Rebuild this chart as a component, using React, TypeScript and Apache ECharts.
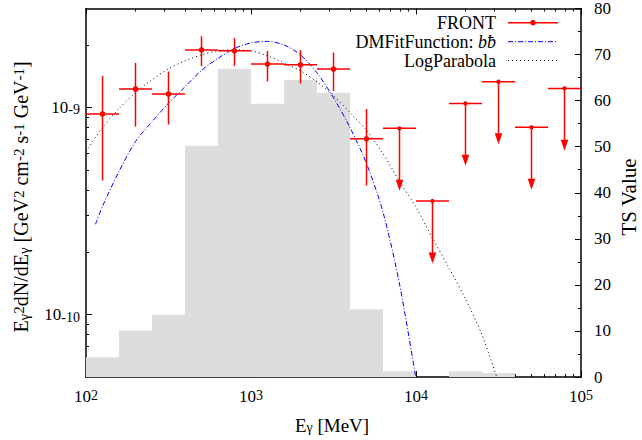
import React, { useEffect, useRef } from 'react';
import * as echarts from 'echarts';

const FONT = 'Liberation Serif';

// Energy bins (MeV)
const binLow = [100, 158.5, 251.2, 398.1, 631.0, 1000, 1585, 2512, 3981, 6310, 10000, 15849, 25119, 39811, 63096];
const binHigh = [158.5, 251.2, 398.1, 631.0, 1000, 1585, 2512, 3981, 6310, 10000, 15849, 25119, 39811, 63096, 100000];
const binCenter = [125.9, 199.5, 316.2, 501.2, 794.3, 1259, 1995, 3162, 5012, 7943, 12589, 19953, 31623, 50119, 79433];

// TS value per bin (right axis)
const tsValues = [4.3, 10.1, 13.5, 50.2, 66.9, 59.3, 64.5, 61.7, 14.7, 1.25, 0, 1.25, 0.85, 0, 0];

// FRONT measured points (first 9 bins)
const frontFlux = [9.29e-10, 1.226e-9, 1.16e-9, 1.894e-9, 1.875e-9, 1.617e-9, 1.604e-9, 1.53e-9, 7.05e-10];
const frontLow = [4.44e-10, 8.08e-10, 8.26e-10, 1.586e-9, 1.586e-9, 1.334e-9, 1.304e-9, 1.2e-9, 4.2e-10];
const frontHigh = [1.415e-9, 1.64e-9, 1.49e-9, 2.205e-9, 2.157e-9, 1.873e-9, 1.888e-9, 1.838e-9, 9.82e-10];
// FRONT upper limits (last 6 bins)
const frontUL = [7.92e-10, 3.53e-10, 1.045e-9, 1.329e-9, 8.01e-10, 1.234e-9];

// DMFitFunction: b bbar
const dmEnergy = [114.2, 125.9, 158.5, 199.5, 251.2, 316.2, 398.1, 501.2, 631.0, 794.3, 1000, 1259, 1585, 1995, 2512, 3162, 3981, 5012, 6310, 7943, 10000];
const dmFlux = [2.73e-10, 3.33e-10, 4.91e-10, 6.84e-10, 8.53e-10, 1.048e-9, 1.257e-9, 1.509e-9, 1.724e-9, 1.926e-9, 2.047e-9, 2.081e-9, 2.001e-9, 1.792e-9, 1.468e-9, 1.113e-9, 7.99e-10, 5.36e-10, 3.12e-10, 1.405e-10, 4.9e-11];

// LogParabola
const lpEnergy = [100, 125.9, 158.5, 199.5, 251.2, 316.2, 398.1, 501.2, 631.0, 794.3, 1000, 1259, 1585, 1995, 2512, 3162, 3981, 5012, 6310, 7943, 10000, 12589, 15849, 19953, 25119, 31623];
const lpFlux = [6.12e-10, 7.99e-10, 9.86e-10, 1.177e-9, 1.359e-9, 1.535e-9, 1.677e-9, 1.792e-9, 1.873e-9, 1.894e-9, 1.873e-9, 1.773e-9, 1.64e-9, 1.501e-9, 1.329e-9, 1.138e-9, 9.43e-10, 7.73e-10, 5.99e-10, 4.39e-10, 3.30e-10, 2.34e-10, 1.68e-10, 1.19e-10, 7.99e-11, 4.69e-11];

// Axis ticks
const xMajorE = [100, 1000, 10000, 100000];
const xDecades = [100, 1000, 10000];
const yMajorF = [1e-10, 1e-9];
const yDecades = [1e-11, 1e-10, 1e-9];
const minorMult = [2, 3, 4, 5, 6, 7, 8, 9];
const yMinF = 5e-11;
const yMaxF = 3e-9;
const tsMin = 0;
const tsMax = 80;
const tsStep = 10;

const L = Math.log10;

export default function App() {
  const ref = useRef<HTMLDivElement>(null);

  useEffect(() => {
    if (!ref.current) return;
    const chart = echarts.init(ref.current, undefined, { renderer: 'svg' });

    const X_MIN = L(xMajorE[0]);
    const X_MAX = L(xMajorE[xMajorE.length - 1]);
    const Y_MIN = L(yMinF);
    const Y_MAX = L(yMaxF);
    const xMajor = xMajorE.map(L);
    const xMinor: number[] = [];
    xDecades.forEach((d) => minorMult.forEach((m) => xMinor.push(L(d * m))));
    const yMajor = yMajorF.map(L);
    const yMinor: number[] = [];
    yDecades.forEach((d) => minorMult.forEach((m) => {
      const v = L(d * m);
      if (v > Y_MIN + 1e-6 && v < Y_MAX - 1e-6) yMinor.push(v);
    }));

    const black = '#000';
    const red = '#ff0000';

    const xRich = {
      b: { fontSize: 17, fontFamily: FONT, color: black, lineHeight: 17, padding: [2, 0, 0, 0], verticalAlign: 'bottom' },
      s: { fontSize: 14, fontFamily: FONT, color: black, lineHeight: 14, verticalAlign: 'top' },
    };
    const yRich = {
      b: { fontSize: 17, fontFamily: FONT, color: black, lineHeight: 17, padding: [10, 0, 0, 0], verticalAlign: 'bottom' },
      s: { fontSize: 14, fontFamily: FONT, color: black, lineHeight: 14, padding: [4, 0, 0, 0], verticalAlign: 'top' },
    };

    const baseX = (pos: 'top' | 'bottom') => ({
      type: 'value',
      min: X_MIN,
      max: X_MAX,
      position: pos,
      splitLine: { show: false },
      axisLine: { show: false, onZero: false },
      axisLabel: { show: false },
    });
    const baseY = (pos: 'left' | 'right', min: number, max: number) => ({
      type: 'value',
      min,
      max,
      position: pos,
      splitLine: { show: false },
      axisLine: { show: false, onZero: false },
      axisLabel: { show: false },
    });

    const xAxis = [
      {
        ...baseX('bottom'),
        axisLine: { show: true, onZero: false, lineStyle: { color: black, width: 1.5 } },
        axisTick: { show: true, inside: true, length: 6, customValues: xMajor, lineStyle: { color: black, width: 1 } },
        axisLabel: {
          show: true,
          customValues: xMajor,
          margin: 11,
          fontFamily: FONT,
          formatter: (v: number) => `{b|10}{s|${Math.round(v)}}`,
          rich: xRich,
        },
      },
      {
        ...baseX('bottom'),
        axisTick: { show: true, inside: true, length: 3, customValues: xMinor, lineStyle: { color: black, width: 1 } },
      },
      {
        ...baseX('top'),
        axisLine: { show: true, onZero: false, lineStyle: { color: black, width: 1.5 } },
        axisTick: { show: true, inside: true, length: 6, customValues: xMajor, lineStyle: { color: black, width: 1 } },
      },
      {
        ...baseX('top'),
        axisTick: { show: true, inside: true, length: 3, customValues: xMinor, lineStyle: { color: black, width: 1 } },
      },
    ];

    const yAxis = [
      {
        ...baseY('left', Y_MIN, Y_MAX),
        axisLine: { show: true, onZero: false, lineStyle: { color: black, width: 1.5 } },
        axisTick: { show: true, inside: true, length: 6, customValues: yMajor, lineStyle: { color: black, width: 1 } },
        axisLabel: {
          show: true,
          customValues: yMajor,
          margin: 6,
          fontFamily: FONT,
          formatter: (v: number) => `{b|10}{s|${Math.round(v)}}`,
          rich: yRich,
        },
      },
      {
        ...baseY('left', Y_MIN, Y_MAX),
        axisTick: { show: true, inside: true, length: 3, customValues: yMinor, lineStyle: { color: black, width: 1 } },
      },
      {
        ...baseY('right', tsMin, tsMax),
        interval: tsStep,
        axisLine: { show: true, onZero: false, lineStyle: { color: black, width: 1.5 } },
        axisTick: { show: true, inside: true, length: 6, lineStyle: { color: black, width: 1 } },
        minorTick: { show: true, splitNumber: 2, length: 3, lineStyle: { color: black, width: 1 } },
        axisLabel: { show: true, margin: 13, fontSize: 17, fontFamily: FONT, color: black },
      },
    ];

    const histData = binLow.map((lo, i) => [L(lo), L(binHigh[i]), tsValues[i]]);
    const pointData = frontFlux.map((f, i) => [
      L(binLow[i]), L(binHigh[i]), L(binCenter[i]), L(f), L(frontLow[i]), L(frontHigh[i]),
    ]);
    const ulOffset = frontFlux.length;
    const ulData = frontUL.map((f, i) => [
      L(binLow[ulOffset + i]), L(binHigh[ulOffset + i]), L(binCenter[ulOffset + i]), L(f), L(f / 2),
    ]);

    const nameRich = {
      b: { fontSize: 19, fontFamily: FONT, fill: black, lineHeight: 19, padding: [4, 0, 4, 0], verticalAlign: 'middle' },
      sup: { fontSize: 14, fontFamily: FONT, fill: black, lineHeight: 14, verticalAlign: 'top' },
      sub: { fontSize: 14, fontFamily: FONT, fill: black, lineHeight: 14, verticalAlign: 'bottom' },
    };
    const yNameRich = {
      b: { fontSize: 20, fontFamily: FONT, fill: black, lineHeight: 20, padding: [5, 0, 5, 0], verticalAlign: 'middle' },
      sup: { fontSize: 15, fontFamily: FONT, fill: black, lineHeight: 15, verticalAlign: 'top' },
      sub: { fontSize: 15, fontFamily: FONT, fill: black, lineHeight: 15, verticalAlign: 'bottom' },
    };

    const legendX = 496;
    const sampleX1 = 508;
    const sampleX2 = 558;
    const rowY = [22.7, 41.7, 60.5];

    const option: any = {
      animation: false,
      backgroundColor: '#fff',
      textStyle: { fontFamily: FONT },
      grid: { left: 86, right: 61, top: 7, bottom: 63 },
      xAxis,
      yAxis,
      series: [
        {
          type: 'custom',
          name: 'TS',
          xAxisIndex: 0,
          yAxisIndex: 2,
          z: 1,
          silent: true,
          data: histData,
          encode: { x: [0, 1], y: 2 },
          renderItem: (_p: any, api: any) => {
            const p0 = api.coord([api.value(0), api.value(2)]);
            const p1 = api.coord([api.value(1), 0]);
            return {
              type: 'rect',
              shape: { x: p0[0], y: p0[1], width: p1[0] - p0[0], height: p1[1] - p0[1] },
              style: { fill: '#dddddd' },
            };
          },
        },
        {
          type: 'line',
          name: 'LogParabola',
          xAxisIndex: 0,
          yAxisIndex: 0,
          z: 2,
          silent: true,
          symbol: 'none',
          smooth: 0.3,
          data: lpEnergy.map((e, i) => [L(e), L(lpFlux[i])]),
          lineStyle: { color: black, width: 1, type: [1, 3] },
        },
        {
          type: 'line',
          name: 'DMFitFunction',
          xAxisIndex: 0,
          yAxisIndex: 0,
          z: 2,
          silent: true,
          symbol: 'none',
          smooth: 0.3,
          data: dmEnergy.map((e, i) => [L(e), L(dmFlux[i])]),
          lineStyle: { color: '#0000ff', width: 1, type: [5, 2, 1, 2] },
        },
        {
          type: 'custom',
          name: 'FRONT',
          xAxisIndex: 0,
          yAxisIndex: 0,
          z: 3,
          silent: true,
          data: pointData,
          encode: { x: [0, 1, 2], y: [3, 4, 5] },
          renderItem: (_p: any, api: any) => {
            const xlo = api.value(0), xhi = api.value(1), xc = api.value(2);
            const y = api.value(3), ylo = api.value(4), yhi = api.value(5);
            const pl = api.coord([xlo, y]);
            const pr = api.coord([xhi, y]);
            const pc = api.coord([xc, y]);
            const pLo = api.coord([xc, ylo]);
            const pHi = api.coord([xc, yhi]);
            return {
              type: 'group',
              children: [
                { type: 'line', shape: { x1: pl[0], y1: pl[1], x2: pr[0], y2: pr[1] }, style: { stroke: red, lineWidth: 1.5 } },
                { type: 'line', shape: { x1: pLo[0], y1: pLo[1], x2: pHi[0], y2: pHi[1] }, style: { stroke: red, lineWidth: 1.5 } },
                { type: 'circle', shape: { cx: pc[0], cy: pc[1], r: 2.8 }, style: { fill: red } },
              ],
            };
          },
        },
        {
          type: 'custom',
          name: 'FRONT UL',
          xAxisIndex: 0,
          yAxisIndex: 0,
          z: 3,
          silent: true,
          data: ulData,
          encode: { x: [0, 1, 2], y: [3, 4] },
          renderItem: (_p: any, api: any) => {
            const xlo = api.value(0), xhi = api.value(1), xc = api.value(2);
            const y = api.value(3), yEnd = api.value(4);
            const pl = api.coord([xlo, y]);
            const pr = api.coord([xhi, y]);
            const pc = api.coord([xc, y]);
            const pt = api.coord([xc, yEnd]);
            const headL = 11;
            const headW = 3.8;
            return {
              type: 'group',
              children: [
                { type: 'line', shape: { x1: pl[0], y1: pl[1], x2: pr[0], y2: pr[1] }, style: { stroke: red, lineWidth: 1.5 } },
                { type: 'line', shape: { x1: pc[0], y1: pc[1], x2: pt[0], y2: pt[1] - headL + 1 }, style: { stroke: red, lineWidth: 1.5 } },
                {
                  type: 'polygon',
                  shape: { points: [[pt[0] - headW, pt[1] - headL], [pt[0] + headW, pt[1] - headL], [pt[0], pt[1]]] },
                  style: { fill: red },
                },
                { type: 'circle', shape: { cx: pc[0], cy: pc[1], r: 2.2 }, style: { fill: red } },
              ],
            };
          },
        },
      ],
      graphic: [
        // legend texts
        {
          type: 'text', x: legendX, y: rowY[0], z: 10,
          style: { text: 'FRONT', font: `18px ${FONT}`, fill: black, align: 'right', verticalAlign: 'middle' },
        },
        {
          type: 'text', x: legendX, y: rowY[1], z: 10,
          style: {
            text: 'DMFitFunction: {i|bƀ}', font: `18px ${FONT}`, fill: black, align: 'right', verticalAlign: 'middle',
            rich: { i: { fontSize: 18, fontFamily: FONT, fontStyle: 'italic', fill: black } },
          },
        },
        {
          type: 'text', x: legendX, y: rowY[2], z: 10,
          style: { text: 'LogParabola', font: `18px ${FONT}`, fill: black, align: 'right', verticalAlign: 'middle' },
        },
        // legend samples
        { type: 'line', z: 10, shape: { x1: sampleX1, y1: rowY[0], x2: sampleX2, y2: rowY[0] }, style: { stroke: red, lineWidth: 1.5 } },
        { type: 'circle', z: 10, shape: { cx: (sampleX1 + sampleX2) / 2, cy: rowY[0], r: 2.8 }, style: { fill: red } },
        { type: 'line', z: 10, shape: { x1: sampleX1, y1: rowY[1], x2: sampleX2, y2: rowY[1] }, style: { stroke: '#0000ff', lineWidth: 1, lineDash: [5, 2, 1, 2] } },
        { type: 'line', z: 10, shape: { x1: sampleX1, y1: rowY[2], x2: sampleX2, y2: rowY[2] }, style: { stroke: black, lineWidth: 1, lineDash: [1, 3] } },
        // axis names
        {
          type: 'text', x: 332, y: 425, z: 10,
          style: { text: '{b|E}{sub|γ}{b| [MeV]}', font: `19px ${FONT}`, align: 'center', verticalAlign: 'middle', rich: nameRich },
        },
        {
          type: 'text', x: 21, y: 197, z: 10, rotation: Math.PI / 2,
          style: {
            text: '{b|E}{sub|γ}{sup|2}{b|dN/dE}{sub|γ}{b| [GeV}{sup|2}{b| cm}{sup|-2}{b| s}{sup|-1}{b| GeV}{sup|-1}{b|]}',
            font: `20px ${FONT}`, align: 'center', verticalAlign: 'middle', rich: yNameRich,
          },
        },
        {
          type: 'text', x: 629, y: 197, z: 10, rotation: Math.PI / 2,
          style: { text: 'TS Value', font: `21px ${FONT}`, fill: black, align: 'center', verticalAlign: 'middle' },
        },
      ],
    };

    chart.setOption(option);
    return () => chart.dispose();
  }, []);

  return <div ref={ref} style={{ position: 'fixed', left: 0, top: 0, width: 642, height: 440, background: '#fff' }} />;
}
